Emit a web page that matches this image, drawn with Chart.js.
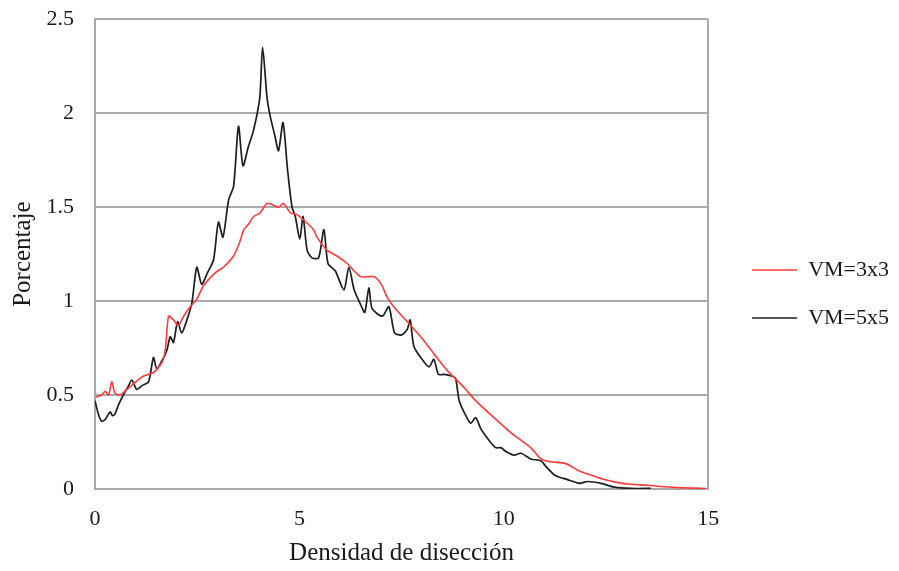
<!DOCTYPE html>
<html><head><meta charset="utf-8">
<script src="https://cdn.jsdelivr.net/npm/chart.js@4"></script>
<style>html,body{margin:0;padding:0;background:#fff}canvas{display:block}</style>
</head><body>
<canvas id="c" width="899" height="571"></canvas>
<script>
const seriesLabels = ["VM=3x3", "VM=5x5"];
const xTitle = "Densidad de disección";
const yTitle = "Porcentaje";
const xTicks = [0, 5, 10, 15];
const yTicks = [0, 0.5, 1, 1.5, 2, 2.5];

// VM=3x3 (red)
const x3 = [0.02,0.16,0.25,0.33,0.41,0.49,0.61,0.78,0.94,1.18,1.43,1.63,1.72,1.80,1.92,2.04,2.17,2.33,2.49,2.65,2.94,3.14,3.39,3.55,3.64,3.76,3.88,4.04,4.21,4.37,4.49,4.61,4.78,4.94,5.11,5.35,5.43,5.68,5.92,6.17,6.50,6.83,7.00,7.15,7.31,7.64,7.97,8.29,8.62,9.03,9.31,9.76,10.17,10.42,10.66,10.91,11.15,11.52,11.81,12.13,12.46,12.79,13.11,13.52,13.93,14.35,14.95];
const y3 = [0.49,0.50,0.52,0.50,0.57,0.51,0.50,0.53,0.56,0.60,0.62,0.67,0.74,0.92,0.90,0.87,0.92,0.97,1.01,1.08,1.15,1.18,1.24,1.32,1.38,1.41,1.45,1.47,1.52,1.51,1.50,1.52,1.47,1.46,1.43,1.38,1.34,1.27,1.24,1.20,1.13,1.13,1.09,1.02,0.97,0.89,0.81,0.72,0.63,0.54,0.47,0.38,0.30,0.26,0.22,0.16,0.145,0.135,0.10,0.074,0.05,0.034,0.025,0.02,0.012,0.007,0.003];

// VM=5x5 (black)
const x5 = [0,0.08,0.16,0.25,0.37,0.43,0.49,0.58,0.69,0.80,0.90,1.02,1.15,1.31,1.43,1.51,1.63,1.76,1.84,1.92,2.02,2.12,2.25,2.37,2.49,2.61,2.75,2.90,3.02,3.13,3.27,3.39,3.51,3.62,3.75,3.88,4.03,4.10,4.21,4.29,4.40,4.49,4.60,4.71,4.82,4.90,5.01,5.09,5.19,5.31,5.47,5.60,5.70,5.88,6.09,6.21,6.34,6.50,6.60,6.70,6.78,7.03,7.19,7.33,7.50,7.64,7.71,7.80,7.97,8.17,8.29,8.40,8.54,8.74,8.82,8.91,9.05,9.19,9.31,9.44,9.60,9.80,9.93,10.05,10.25,10.42,10.66,10.91,11.03,11.27,11.56,11.85,12.05,12.38,12.70,13.11,13.60];
const y5 = [0.47,0.40,0.36,0.37,0.41,0.39,0.40,0.45,0.50,0.54,0.58,0.53,0.55,0.57,0.70,0.64,0.68,0.74,0.81,0.78,0.89,0.83,0.90,0.99,1.18,1.09,1.15,1.22,1.42,1.34,1.54,1.61,1.93,1.72,1.82,1.91,2.08,2.35,2.08,1.98,1.88,1.80,1.95,1.70,1.50,1.45,1.33,1.45,1.27,1.23,1.23,1.38,1.20,1.16,1.06,1.18,1.06,0.98,0.94,1.07,0.96,0.92,0.97,0.83,0.82,0.85,0.90,0.76,0.70,0.65,0.69,0.61,0.61,0.60,0.59,0.47,0.40,0.35,0.38,0.32,0.27,0.22,0.22,0.20,0.18,0.19,0.16,0.15,0.12,0.07,0.05,0.03,0.04,0.03,0.01,0.003,0.003];

const toPts = (xs, ys) => xs.map((x, i) => ({x: x, y: ys[i]}));
const FONT = "'Liberation Serif', 'Times New Roman', serif";
const GRID = '#a9a9a9';
const TXT = '#1a1a1a';

new Chart(document.getElementById('c'), {
  type: 'line',
  data: {
    datasets: [
      {label: seriesLabels[0], data: toPts(x3, y3), borderColor: '#ff3a3a', backgroundColor: '#ff3a3a', borderWidth: 1.6, pointRadius: 0, tension: 0.25, fill: false},
      {label: seriesLabels[1], data: toPts(x5, y5), borderColor: '#1e1e1e', backgroundColor: '#1e1e1e', borderWidth: 1.7, pointRadius: 0, tension: 0.25, fill: false}
    ]
  },
  options: {
    responsive: false,
    animation: false,
    layout: {padding: {left: 0, top: 17, right: 0, bottom: 0}},
    plugins: {
      tooltip: {enabled: false},
      legend: {
        position: 'right',
        align: 'center',
        labels: {
          usePointStyle: true,
          pointStyle: 'line',
          pointStyleWidth: 45,
          boxHeight: 22,
          padding: 26,
          color: TXT,
          font: {family: FONT, size: 22}
        }
      }
    },
    scales: {
      x: {
        type: 'linear', min: 0, max: 15,
        afterBuildTicks: s => { s.ticks = xTicks.map(v => ({value: v})); },
        afterFit: s => { s.height = 82; },
        grid: {color: c => (c.tick && c.tick.value === 15) ? GRID : 'transparent', lineWidth: 2, drawTicks: false},
        border: {display: true, color: GRID, width: 2},
        ticks: {padding: 17, color: TXT, font: {family: FONT, size: 22}, maxRotation: 0},
        title: {display: true, text: xTitle, color: TXT, font: {family: FONT, size: 25}, padding: {top: 4, bottom: 3}}
      },
      y: {
        type: 'linear', min: 0, max: 2.5,
        afterBuildTicks: s => { s.ticks = yTicks.map(v => ({value: v})); },
        afterFit: s => { s.width = 95; },
        grid: {color: GRID, lineWidth: 2, drawTicks: true, tickLength: 15, tickColor: 'transparent'},
        border: {display: true, color: GRID, width: 2},
        ticks: {padding: 6, color: TXT, font: {family: FONT, size: 22}, callback: v => String(v)},
        title: {display: true, text: yTitle, color: TXT, font: {family: FONT, size: 25}, padding: {top: 8, bottom: 0}}
      },
      y2: {
        type: 'linear', position: 'right', min: 0, max: 2.5, display: false,
        afterFit: s => { s.width = 18; }
      }
    }
  }
});
</script>
</body></html>
